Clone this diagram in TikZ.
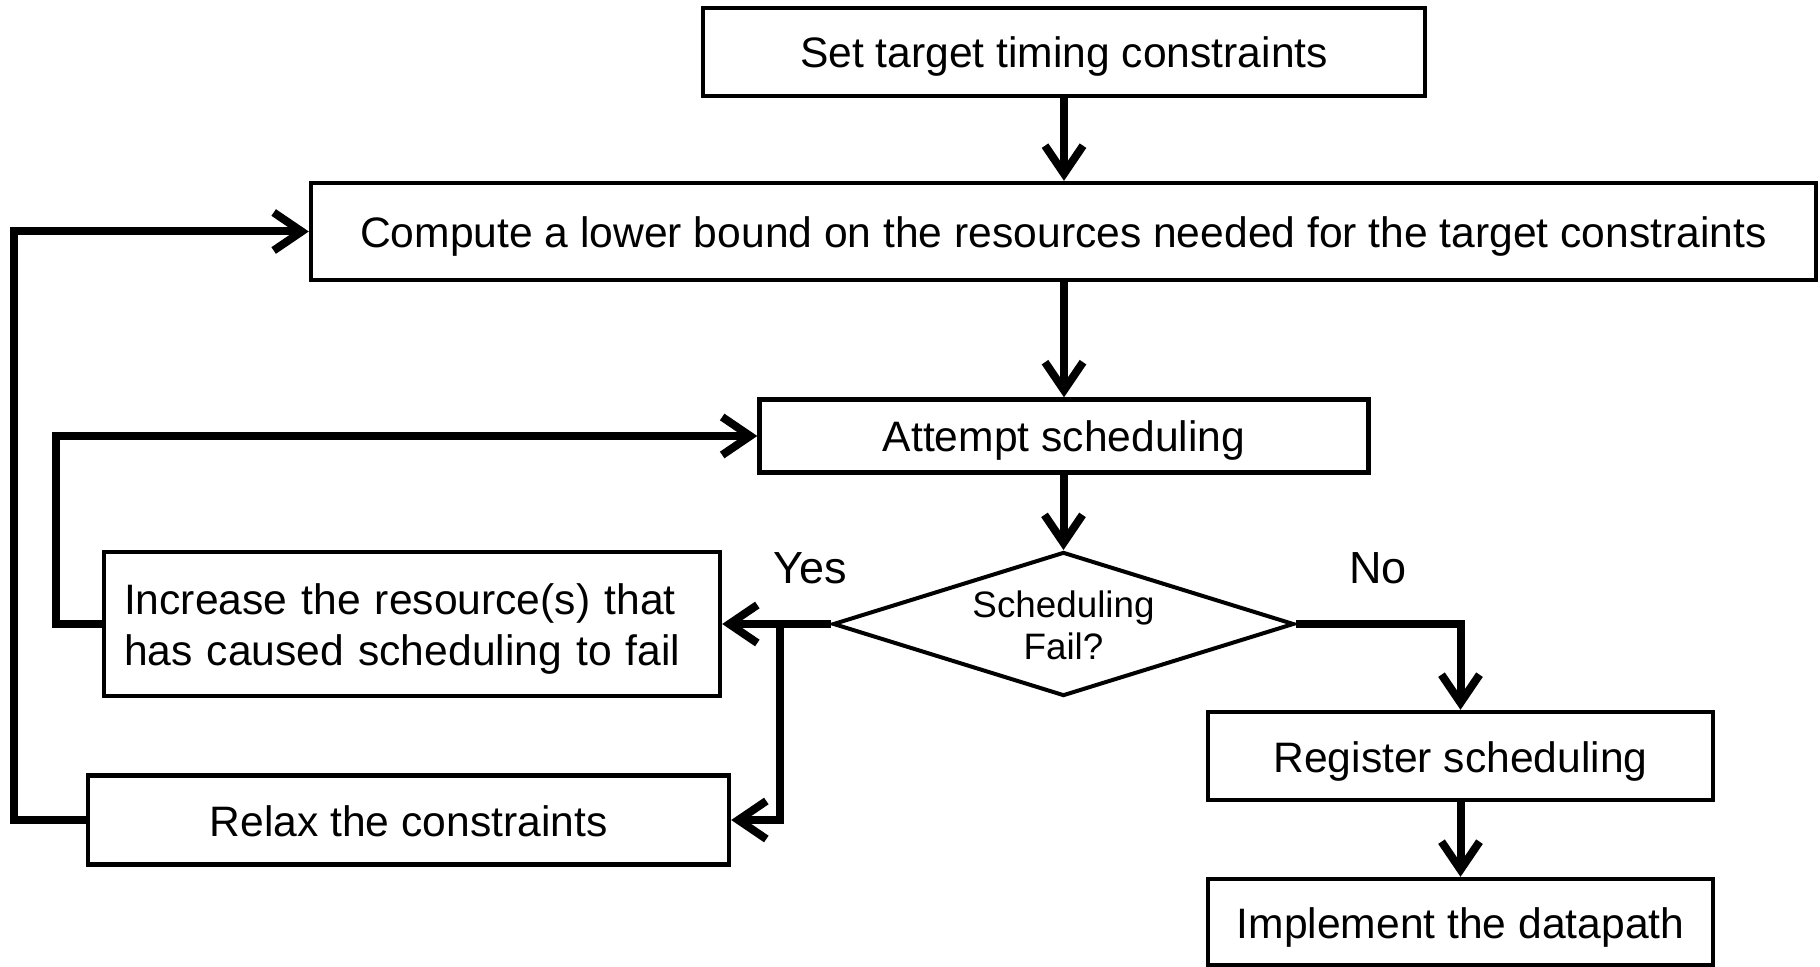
\documentclass[tikz,border=0pt]{standalone}
\usepackage{fontspec}
\setmainfont{Liberation Sans}
\usetikzlibrary{arrows.meta,shapes.geometric}
\tikzset{
  stepbox/.style={draw, line width=2.2pt, inner sep=0pt, font=\fontsize{21.3}{25.5}\selectfont,
    text height=18.5pt, text depth=2.5pt},
  flow/.style={line width=4pt, line join=miter, -{Straight Barb[length=14pt,width=19pt]}},
  decision/.style={draw, shape=diamond, line width=2pt, inner sep=0pt,
    minimum width=230.5pt, minimum height=72pt},
  tag/.style={font=\fontsize{22.5}{27}\selectfont, inner sep=0pt},
}
\begin{document}
\begin{tikzpicture}[x=0.5pt,y=-0.5pt]
\useasboundingbox (0,0) rectangle (1820,967);

% process steps
\node[stepbox, minimum width=361pt, minimum height=44pt] (target) at (1064,52)
  {Set target timing constraints};
\node[stepbox, minimum width=752.5pt, minimum height=48.5pt] (bound) at (1063.5,231.5)
  {Compute a lower bound on the resources needed for the target constraints};
\node[stepbox, minimum width=304.5pt, minimum height=36.5pt] (attempt) at (1064,436)
  {Attempt scheduling};
\node[decision] (fail) at (1063.5,624) {};
\node[font=\fontsize{18.4}{21}\selectfont, align=center, inner sep=0pt] (failtext) at (1063.5,625)
  {Scheduling\\Fail?};
\node[stepbox, minimum width=308pt, minimum height=72pt, text width=288pt, align=left,
  text height=18pt, text depth=27.5pt] (inc) at (412,624)
  {Increase the resource(s) that\\has caused scheduling to fail};
\node[stepbox, minimum width=320.5pt, minimum height=44.5pt] (relax) at (408.5,820)
  {Relax the constraints};
\node[stepbox, minimum width=252.5pt, minimum height=44pt] (reg) at (1460.5,756)
  {Register scheduling};
\node[stepbox, minimum width=252.5pt, minimum height=43pt] (impl) at (1460.5,922)
  {Implement the datapath};

% branch labels
\node[tag] (yes) at (810,568) {Yes};
\node[tag] (no) at (1378,568) {No};

% connectors
\coordinate (split) at (780,624);
\coordinate (outer) at (14,0);
\coordinate (inner) at (56,0);

\draw[flow] (target.south) -- (target.south |- bound.north);
\draw[flow] (attempt.north |- bound.south) -- (attempt.north);
\draw[flow] (fail.north |- attempt.south) -- (fail.north);
\draw[flow] (fail.east) -| (reg.north);
\draw[flow] (reg.south) -- (impl.north);
\draw[flow] (fail.west) -- (inc.east);
\draw[flow] (split) |- (relax.east);
\draw[flow] (relax.west) -- (relax.west -| outer) |- (bound.west);
\draw[flow] (inc.west) -- (inc.west -| inner) |- (attempt.west);
\end{tikzpicture}
\end{document}
